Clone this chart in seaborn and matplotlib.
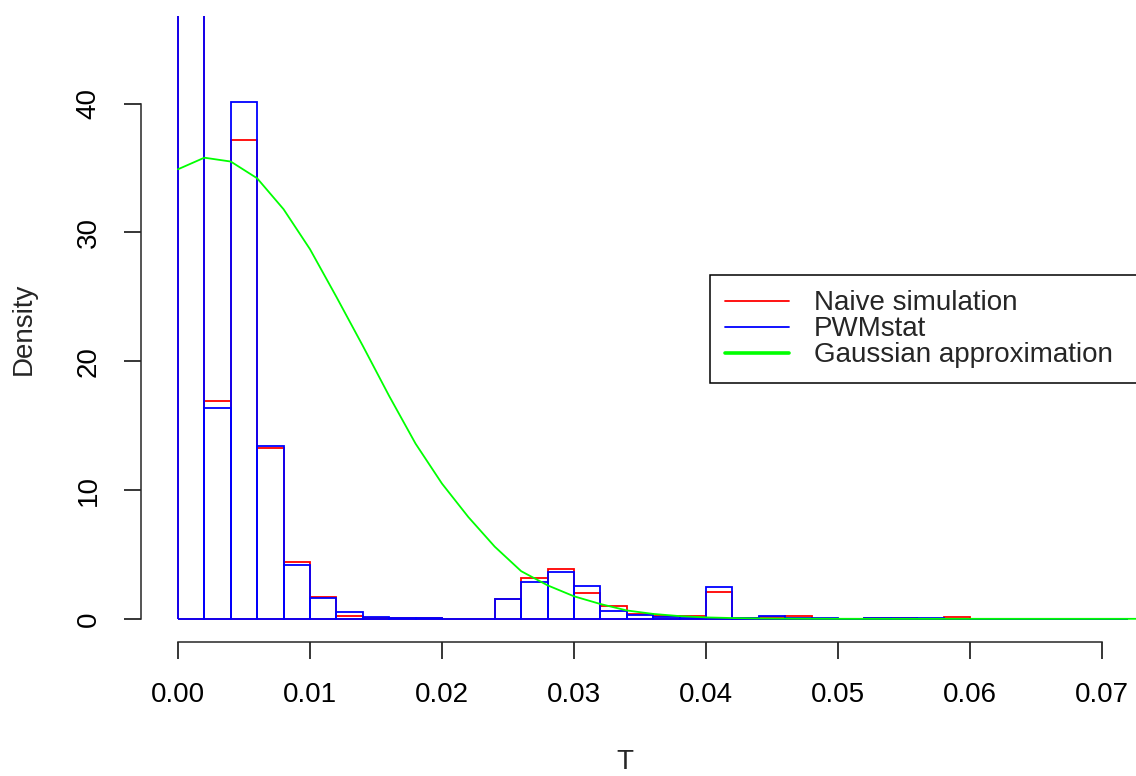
import numpy as np
import matplotlib
matplotlib.use('Agg')
import matplotlib.pyplot as plt
from matplotlib.lines import Line2D
import seaborn as sns

# histogram bins (width 0.002 from 0 to 0.072), densities
bin_edges = [round(0.002 * k, 3) for k in range(37)]
naive_density = [411, 16.9, 37.2, 13.3, 4.4, 1.7, 0.2, 0.1, 0.05, 0.03, 0, 0,
                 1.5, 3.16, 3.86, 2.0, 1.0, 0.39, 0.2, 0.25, 2.07, 0.05, 0.15, 0.2,
                 0, 0, 0.03, 0.04, 0, 0.12, 0.02, 0, 0.02, 0, 0.02, 0]
pwm_density = [409, 16.4, 40.1, 13.4, 4.2, 1.65, 0.55, 0.15, 0.05, 0.03, 0, 0,
               1.5, 2.82, 3.63, 2.51, 0.62, 0.3, 0.15, 0.1, 2.5, 0.05, 0.25, 0.05,
               0.03, 0, 0.03, 0.04, 0.03, 0, 0.02, 0.02, 0, 0.02, 0, 0.02]
# gaussian approximation, sampled every 0.002
gauss_x = [round(0.002 * k, 3) for k in range(38)]
gauss_y = [34.9, 35.8, 35.5, 34.2, 31.8, 28.7, 25.0, 21.2, 17.3, 13.6, 10.5, 7.9,
           5.6, 3.7, 2.6, 1.75, 1.15, 0.65, 0.38, 0.21, 0.11, 0.06, 0.03, 0.015,
           0.007, 0.003, 0.001, 0, 0, 0, 0, 0, 0, 0, 0, 0, 0, 0]

colors = {'naive': '#ff0000', 'pwm': '#0000ff', 'gauss': '#00ff00'}
labels = ['Naive simulation', 'PWMstat', 'Gaussian approximation']

sns.set_style('ticks')
plt.rcParams['font.family'] = ['Liberation Sans', 'DejaVu Sans']
plt.rcParams['font.size'] = 20

fig = plt.figure(figsize=(11.36, 7.76), dpi=100)
# plot region in pixels: x 141..1136, y 16..642 (from top)
W, H = 1136, 776
ax = fig.add_axes([141 / W, (H - 642) / H, 1 - 141 / W, (642 - 16) / H])

mids = [(a + b) / 2 for a, b in zip(bin_edges[:-1], bin_edges[1:])]
sns.histplot(x=mids, weights=naive_density, bins=bin_edges, stat='count',
             fill=False, color=colors['naive'], linewidth=1.3, ax=ax)
sns.histplot(x=mids, weights=pwm_density, bins=bin_edges, stat='count',
             fill=False, color=colors['pwm'], linewidth=1.3, ax=ax)
sns.lineplot(x=gauss_x, y=gauss_y, color=colors['gauss'], linewidth=1.3, ax=ax)

ax.set_xlim(-0.0028, 0.07258)
ax.set_ylim(-1.8, 46.8)
ax.set_xticks(np.arange(0, 0.071, 0.01))
ax.set_xticklabels(['{:.2f}'.format(t) for t in np.arange(0, 0.071, 0.01)])
ax.set_yticks([0, 10, 20, 30, 40])
ax.set_yticklabels(['0', '10', '20', '30', '40'], rotation=90, va='center')
ax.tick_params(axis='both', direction='out', length=12.5, width=1.1, pad=16,
               labelsize=20, colors='black')
for side in ['top', 'right']:
    ax.spines[side].set_visible(False)
ax.spines['left'].set_bounds(0, 40)
ax.spines['bottom'].set_bounds(0, 0.07)
ax.spines['left'].set_linewidth(1.1)
ax.spines['bottom'].set_linewidth(1.1)

ax.set_xlabel('T', fontsize=20)
ax.set_ylabel('Density', fontsize=20)
ax.xaxis.set_label_coords((625 - 141) / 995, (642 - 762) / 626)
ax.xaxis.label.set_va('center')
ax.yaxis.set_label_coords((24 - 141) / 995, 0.5)
ax.yaxis.label.set_va('center')

handles = [Line2D([], [], color=colors['naive'], lw=1.3),
           Line2D([], [], color=colors['pwm'], lw=1.3),
           Line2D([], [], color=colors['gauss'], lw=2.6)]
# legend box runs past the right edge of the picture, as in the reference
leg = ax.legend(handles, labels, loc='center left', mode='expand',
                bbox_to_anchor=(710 / W, (H - 378) / H, 456 / W, 98 / H),
                bbox_transform=fig.transFigure,
                frameon=True, fancybox=False, edgecolor='black', framealpha=1,
                borderaxespad=0, borderpad=0.55, handlelength=2.3, handletextpad=0.9,
                labelspacing=0.0, handleheight=0.5, fontsize=20)
leg.get_frame().set_linewidth(1.1)

fig.savefig('out.png', dpi=100)
